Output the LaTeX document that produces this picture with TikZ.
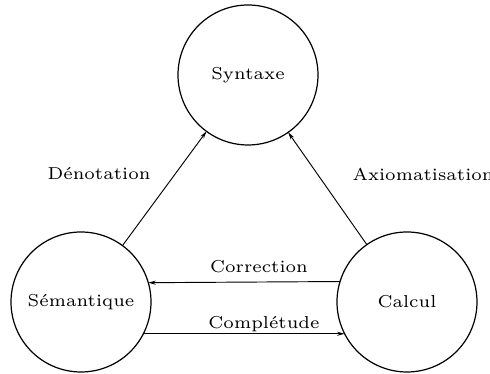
\documentclass[tikz,border=0pt]{standalone}
\usetikzlibrary{arrows.meta,positioning}
\begin{document}
\begin{tikzpicture}
    [x=0.3733pt, y=-0.3733pt,
    state/.style={circle, draw=black, line width=0.45pt,
    minimum size=52.26pt, inner sep=0pt, outer sep=0pt,
    font=\fontsize{6.45}{7}\selectfont},
    lbl/.style={inner sep=0pt, font=\fontsize{6.45}{7}\selectfont},
    line/.style={draw, line width=0.35pt, -{Stealth[length=2.8pt,width=1.5pt]}}]
    \useasboundingbox (0,0) rectangle (490,374);

    \node [state] (syntaxe) at (248,75) {Syntaxe};
    \node [state] (semantique) at (81,302) {Sémantique};
    \node [state] (calcul) at (407,302) {Calcul};

    \node [lbl] (denotation) at (99,174) {Dénotation};
    \node [lbl, anchor=west] (axiomatisation) at (352,174) {Axiomatisation};
    \node [lbl, anchor=base] (correction) at (259,273) {Correction};
    \node [lbl, anchor=base] (completude) at (264,329) {Complétude};

    \begin{scope}[every path/.style=line]
        \path (semantique) -- (syntaxe);
        \path (calcul) -- (syntaxe);
        \path (calcul.163.4) -- (semantique.16.6);
        \path (semantique.-27.2) -- (calcul.207.2);
    \end{scope}
\end{tikzpicture}
\end{document}
